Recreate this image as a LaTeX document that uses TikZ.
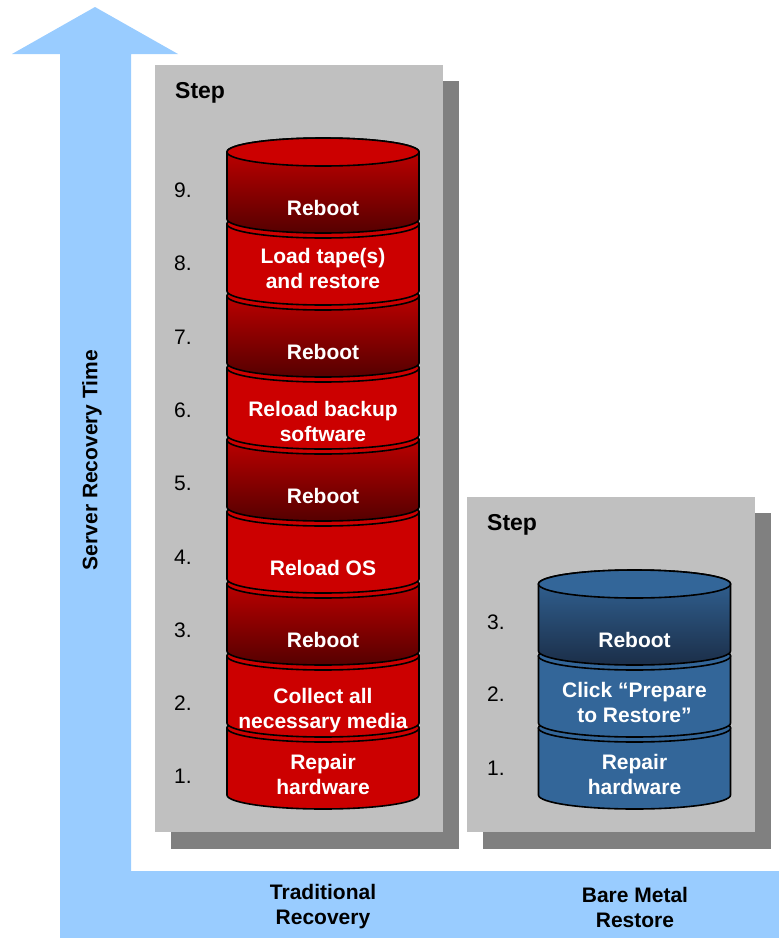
\documentclass[tikz,border=0pt]{standalone}
\usepackage{fontspec}
\setmainfont{Liberation Sans}
\definecolor{arrowblue}{HTML}{99CCFF}
\definecolor{panelgray}{HTML}{C0C0C0}
\definecolor{shadowgray}{HTML}{808080}
\definecolor{diskred}{HTML}{CC0000}
\definecolor{diskreddark}{HTML}{550000}
\definecolor{diskblue}{HTML}{336699}
\definecolor{diskbluedark}{HTML}{1B2E48}
\tikzset{
  diskline/.style={draw=black, line width=1.6pt},
  redflat/.style={diskline, fill=diskred},
  redshade/.style={diskline, top color=diskred, bottom color=diskreddark},
  blueflat/.style={diskline, fill=diskblue},
  blueshade/.style={diskline, top color=diskblue, bottom color=diskbluedark},
  disktext/.style={text=white, font=\bfseries\fontsize{21}{25}\selectfont, align=center, inner sep=0pt},
  numtext/.style={text=black, font=\fontsize{21}{25}\selectfont, anchor=west, inner sep=0pt},
  steptext/.style={text=black, font=\bfseries\fontsize{23}{27}\selectfont, anchor=west, inner sep=0pt},
  axistext/.style={text=black, font=\bfseries\fontsize{21}{25}\selectfont, align=center, inner sep=0pt},
}
% cx, yt, yb, body style, top colour
\newcommand\cylseg[5]{%
  \path[#4] ({#1-96},#2) -- ({#1-96},#3)
    arc[start angle=180, end angle=360, x radius=96pt, y radius=14pt]
    -- ({#1+96},#2)
    arc[start angle=0, end angle=180, x radius=96pt, y radius=14pt] -- cycle;
  \draw[diskline, fill=#5] (#1,#2) ellipse[x radius=96pt, y radius=14pt];
}
\begin{document}
\begin{tikzpicture}[x=1pt, y=-1pt]
\useasboundingbox (0,0) rectangle (779,938);
% axis arrow
\fill[arrowblue] (12,54) -- (95,7) -- (178,54) -- (131,54) -- (131,871)
  -- (779,871) -- (779,938) -- (60,938) -- (60,54) -- cycle;
\node[axistext, rotate=90] (axis) at (92,460) {Server Recovery Time};
% panels
\fill[shadowgray] (171,81) rectangle (459,849);
\fill[panelgray] (155,65) rectangle (443,832);
\fill[shadowgray] (483,513) rectangle (771,849);
\fill[panelgray] (467,497) rectangle (755,832);
\node[steptext] (stepL) at (175,92.5) {Step};
\node[steptext] (stepR) at (487,524.5) {Step};
% red stack
\cylseg{323}{728}{795}{redflat}{diskred}
\cylseg{323}{656}{723}{redflat}{diskred}
\cylseg{323}{584}{651}{redshade}{diskred}
\cylseg{323}{512}{579}{redflat}{diskred}
\cylseg{323}{440}{507}{redshade}{diskred}
\cylseg{323}{368}{435}{redflat}{diskred}
\cylseg{323}{296}{363}{redshade}{diskred}
\cylseg{323}{224}{291}{redflat}{diskred}
\cylseg{323}{152}{219}{redshade}{diskred}
\node[disktext] (r9) at (323,208) {Reboot};
\node[disktext] (r8) at (323,268.5) {Load tape(s)\\and restore};
\node[disktext] (r7) at (323,352) {Reboot};
\node[disktext] (r6) at (323,421.5) {Reload backup\\software};
\node[disktext] (r5) at (323,496) {Reboot};
\node[disktext] (r4) at (323,568) {Reload OS};
\node[disktext] (r3) at (323,640) {Reboot};
\node[disktext] (r2) at (323,711) {Collect all\\necessary media};
\node[disktext] (r1) at (323,774.5) {Repair\\hardware};
\node[numtext] (n9) at (174,190) {9.};
\node[numtext] (n8) at (174,263) {8.};
\node[numtext] (n7) at (174,337) {7.};
\node[numtext] (n6) at (174,410) {6.};
\node[numtext] (n5) at (174,483) {5.};
\node[numtext] (n4) at (174,557) {4.};
\node[numtext] (n3) at (174,630) {3.};
\node[numtext] (n2) at (174,703) {2.};
\node[numtext] (n1) at (174,776) {1.};
% blue stack
\cylseg{634.5}{728}{795}{blueflat}{diskblue}
\cylseg{634.5}{656}{723}{blueflat}{diskblue}
\cylseg{634.5}{584}{651}{blueshade}{diskblue}
\node[disktext] (b3) at (634.5,640) {Reboot};
\node[disktext] (b2) at (634.5,702.5) {Click “Prepare\\to Restore”};
\node[disktext] (b1) at (634.5,774.5) {Repair\\hardware};
\node[numtext] (m3) at (487,622) {3.};
\node[numtext] (m2) at (487,694) {2.};
\node[numtext] (m1) at (487,768) {1.};
% bottom labels
\node[axistext] (trad) at (323,907) {Traditional\\Recovery};
\node[axistext] (bmr) at (635,907) {Bare Metal\\Restore};
\end{tikzpicture}
\end{document}
